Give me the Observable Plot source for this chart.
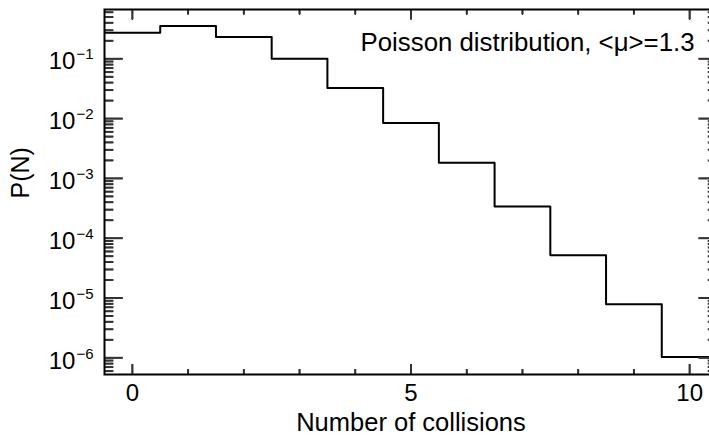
<!DOCTYPE html>
<html><head><meta charset="utf-8">
<script src="https://cdn.jsdelivr.net/npm/d3@7"></script>
<script src="https://cdn.jsdelivr.net/npm/@observablehq/plot@0.6"></script>
<style>
html,body{margin:0;padding:0;background:#fff;overflow:hidden;}
#chart{width:709px;height:435px;overflow:hidden;}
</style></head><body><div id="chart"></div>
<script>
const collisions = [0, 1, 2, 3, 4, 5, 6, 7, 8, 9, 10];
const probability = [0.272, 0.354, 0.231, 0.0998, 0.0325, 0.0084, 0.00183, 0.00034, 0.000052, 0.0000079, 0.00000103];
const xMajorTicks = [0, 5, 10];
const xMinorTicks = [1, 2, 3, 4, 6, 7, 8, 9];
const yMajorTicks = [1e-6, 1e-5, 1e-4, 1e-3, 1e-2, 1e-1];
const yMinorMultipliers = [2, 3, 4, 5, 6, 7, 8, 9];
const xTitle = "Number of collisions";
const yTitle = "P(N)";
const legendText = "Poisson distribution, <\u03bc>=1.3";
const xDomain = [-0.5, 10.5];
const yDomain = [5.26e-7, 0.667];

const yMinorTicks = [];
[1e-7, ...yMajorTicks].forEach(p => yMinorMultipliers.forEach(k => {
  const v = k * p;
  if (v >= yDomain[0] && v <= yDomain[1]) yMinorTicks.push(v);
}));

// histogram outline as a step line over bin edges
const steps = collisions.map((c, i) => ({x: c - 0.5, p: probability[i]}));
steps.push({x: collisions[collisions.length - 1] + 0.5, p: probability[probability.length - 1]});

const font = "'Liberation Sans', Arial, Helvetica, sans-serif";
const W = 722, H = 435, mL = 104, mR = 5, mT = 9, mB = 61;
const plotW = W - mL - mR, plotH = H - mT - mB;
const yMajorLen = 18.7, yMinorLen = 9.3, xMajorLen = 10, xMinorLen = 5;
const tickColor = "#333";

// inward-pointing tick marks as short rules hugging the frame
function inTicksY(ticks, side, len) {
  const o = {y: d => d, stroke: tickColor, strokeWidth: 2};
  if (side === "left") o.insetRight = plotW - len; else o.insetLeft = plotW - len;
  return Plot.ruleY(ticks, o);
}
function inTicksX(ticks, side, len) {
  const o = {x: d => d, stroke: tickColor, strokeWidth: 2};
  if (side === "bottom") o.insetTop = plotH - len; else o.insetBottom = plotH - len;
  return Plot.ruleX(ticks, o);
}
// same ticks through axis marks (outward ticks shifted inside by their length)
function axTicksY(ticks, side, len) {
  return Plot.axisY(ticks, {anchor: side, tickSize: len, dx: side === "left" ? len : -len,
    stroke: tickColor, strokeWidth: 1.5, fill: "none", label: null});
}
function axTicksX(ticks, side, len) {
  return Plot.axisX(ticks, {anchor: side, tickSize: len, dy: side === "bottom" ? -len : len,
    stroke: tickColor, strokeWidth: 1.5, fill: "none", label: null});
}

const chart = Plot.plot({
  width: W,
  height: H,
  marginLeft: mL,
  marginRight: mR,
  marginTop: mT,
  marginBottom: mB,
  style: {fontFamily: font, fontSize: "24px", color: "black", background: "white", maxWidth: "none", overflow: "visible"},
  x: {domain: xDomain},
  y: {type: "log", domain: yDomain},
  marks: [
    Plot.line(steps, {x: "x", y: "p", curve: "step-after", stroke: "black", strokeWidth: 2, clip: true}),
    inTicksY(yMajorTicks, "left", yMajorLen),
    inTicksY(yMinorTicks, "left", yMinorLen),
    inTicksY(yMajorTicks, "right", yMajorLen),
    inTicksY(yMinorTicks, "right", yMinorLen),
    inTicksX(xMajorTicks, "bottom", xMajorLen),
    inTicksX(xMinorTicks, "bottom", xMinorLen),
    inTicksX(xMajorTicks, "top", xMajorLen),
    inTicksX(xMinorTicks, "top", xMinorLen),
    axTicksY(yMajorTicks, "left", yMajorLen),
    axTicksY(yMinorTicks, "left", yMinorLen),
    axTicksY(yMajorTicks, "right", yMajorLen),
    axTicksY(yMinorTicks, "right", yMinorLen),
    axTicksX(xMajorTicks, "bottom", xMajorLen),
    axTicksX(xMinorTicks, "bottom", xMinorLen),
    axTicksX(xMajorTicks, "top", xMajorLen),
    axTicksX(xMinorTicks, "top", xMinorLen),
    Plot.frame({stroke: "black", strokeWidth: 2}),
    Plot.axisY(yMajorTicks, {anchor: "left", tickSize: 0, tickPadding: 11, dy: 3,
      tickFormat: d => "10^" + Math.round(Math.log10(d)), fontSize: 24, label: null}),
    Plot.axisX(xMajorTicks, {anchor: "bottom", tickSize: 0, tickPadding: 9,
      tickFormat: d => String(d), fontSize: 24, label: null}),
    Plot.text([xTitle], {text: d => d, frameAnchor: "bottom", dy: 56, lineAnchor: "bottom", fontSize: 25.5}),
    Plot.text([yTitle], {text: d => d, frameAnchor: "left", dx: -76, dy: 6.5, rotate: -90, lineAnchor: "bottom", fontSize: 25}),
    Plot.text([legendText], {text: d => d, frameAnchor: "top-right", dx: -23, dy: 41, textAnchor: "end", lineAnchor: "bottom", fontSize: 25.8})
  ]
});

// render exponents as superscripts
chart.querySelectorAll('g[aria-label="y-axis tick label"] text').forEach(t => {
  const m = t.textContent.match(/^10\^(-?\d+)$/);
  if (!m) return;
  t.textContent = "";
  const ns = "http://www.w3.org/2000/svg";
  const base = document.createElementNS(ns, "tspan");
  base.textContent = "10";
  const sup = document.createElementNS(ns, "tspan");
  sup.textContent = m[1].replace("-", "\u2212");
  sup.setAttribute("font-size", "15");
  sup.setAttribute("dy", "-10");
  sup.setAttribute("dx", "1");
  t.appendChild(base);
  t.appendChild(sup);
});

document.getElementById("chart").appendChild(chart);
</script>
</body></html>
